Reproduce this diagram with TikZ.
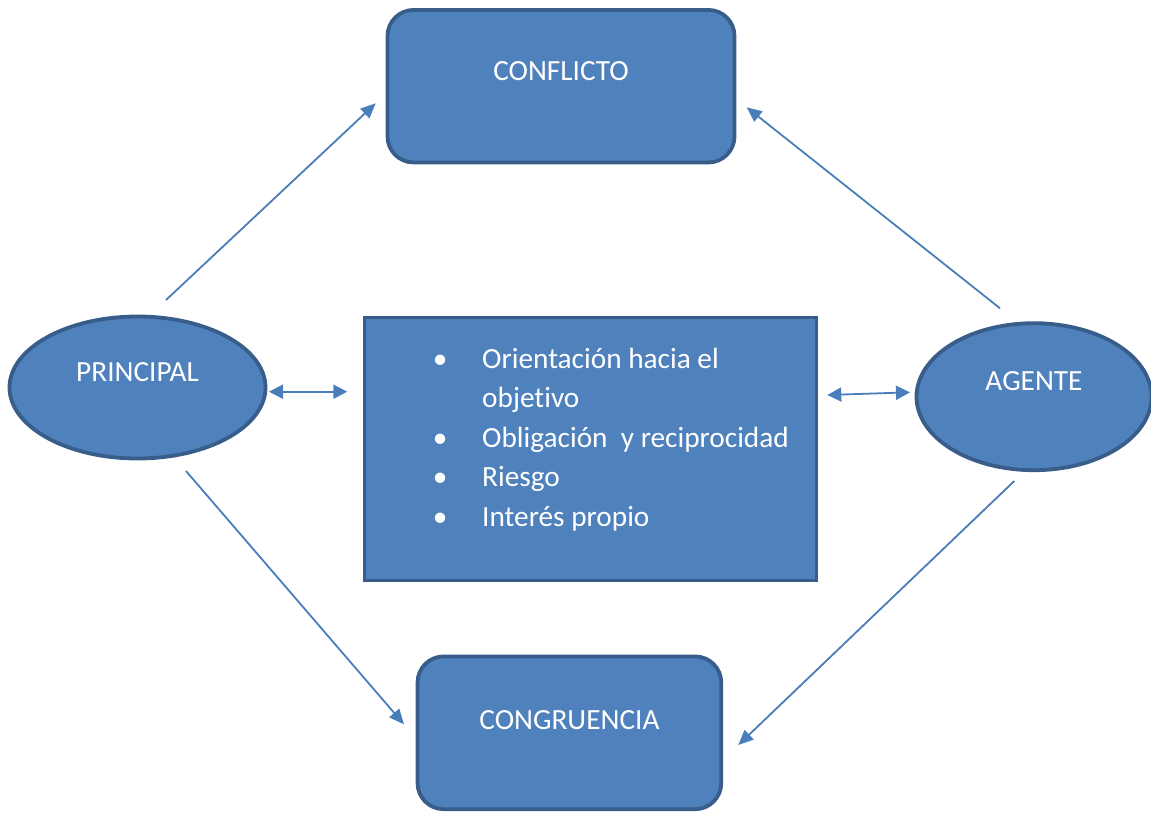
\documentclass[tikz,border=0pt]{standalone}
\usepackage{fontspec}
\setmainfont{Carlito}[Ligatures=NoCommon]
\usetikzlibrary{arrows.meta,shapes.geometric}
\definecolor{boxfill}{HTML}{4F81BD}
\definecolor{boxline}{HTML}{385D8A}
\definecolor{arrowcol}{HTML}{4A7EBB}
\tikzset{
  shapebase/.style={draw=boxline, line width=3.8pt, fill=boxfill, text=white,
    font=\fontsize{29.3}{35}\selectfont, inner sep=0pt, text height=20pt},
  rbox/.style={shapebase, rectangle, rounded corners=26pt},
  oval/.style={shapebase, ellipse},
  arr/.style={draw=arrowcol, line width=1.8pt, -{Triangle[length=15pt,width=13pt]}},
  darr/.style={draw=arrowcol, line width=1.8pt, {Triangle[length=14pt,width=14pt]}-{Triangle[length=14pt,width=14pt]}},
  listtext/.style={text=white, font=\fontsize{29.3}{39.5}\selectfont, align=left, inner sep=0pt}
}
\begin{document}
\begin{tikzpicture}[x=1pt,y=-1pt]
\useasboundingbox (0,0) rectangle (1151,812);
\node[rbox, minimum width=347pt, minimum height=152.5pt, text depth=30.5pt] (conflicto) at (561,86.2) {CONFLICTO};
\node[rbox, minimum width=303.7pt, minimum height=152.7pt, text depth=27pt] (congruencia) at (569.4,732.8) {CONGRUENCIA};
\node[oval, minimum width=256pt, minimum height=142pt, text depth=31.6pt] (principal) at (137.5,387.5) {PRINCIPAL};
\node[oval, minimum width=235pt, minimum height=147pt, text depth=32pt] (agente) at (1034,396.7) {AGENTE};
\node[shapebase, rectangle, minimum width=452pt, minimum height=263pt] (factores) at (590.5,449) {};
\node[listtext, anchor=base west] (lista) at (440,526) {%
\makebox[0pt]{•}\hspace{42pt}Orientación hacia el\\
\hspace*{42pt}objetivo\\
\makebox[0pt]{•}\hspace{42pt}Obligación\ \ y reciprocidad\\
\makebox[0pt]{•}\hspace{42pt}Riesgo\\
\makebox[0pt]{•}\hspace{42pt}Interés propio};
\coordinate (a1s) at (166,300);
\coordinate (a1e) at (375.7,103.3);
\coordinate (a2s) at (1000,308.3);
\coordinate (a2e) at (746.7,107.3);
\coordinate (a3s) at (186,471);
\coordinate (a3e) at (404,724.3);
\coordinate (a4s) at (1014.3,481);
\coordinate (a4e) at (738.3,745);
\coordinate (d1a) at (269,391.7);
\coordinate (d1b) at (347.3,391.7);
\coordinate (d2a) at (827.3,395);
\coordinate (d2b) at (910,392.3);
\draw[arr] (a1s) -- (a1e);
\draw[arr] (a2s) -- (a2e);
\draw[arr] (a3s) -- (a3e);
\draw[arr] (a4s) -- (a4e);
\draw[darr] (d1a) -- (d1b);
\draw[darr] (d2a) -- (d2b);
\end{tikzpicture}
\end{document}
